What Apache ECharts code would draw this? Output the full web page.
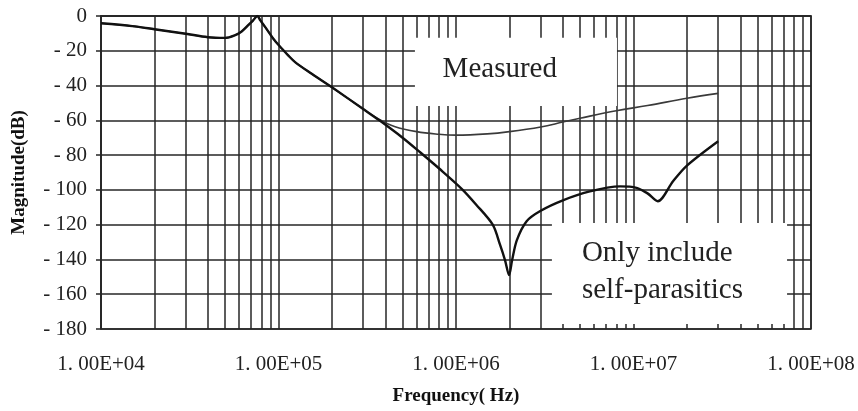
<!DOCTYPE html>
<html>
<head>
<meta charset="utf-8">
<script src="https://cdn.jsdelivr.net/npm/echarts@6/dist/echarts.min.js"></script>
<style>html,body{margin:0;padding:0;background:#fff}#c{width:858px;height:411px}</style>
</head>
<body>
<div id="c"></div>
<script>
// ---- data ----
const decades = [1e4, 1e5, 1e6, 1e7];
const minorMultipliers = [2, 3, 4, 5, 6, 7, 8, 9];
const xTickLabels = ['1. 00E+04', '1. 00E+05', '1. 00E+06', '1. 00E+07', '1. 00E+08'];
const yTicks = [0, -20, -40, -60, -80, -100, -120, -140, -160, -180];

const freqMeasured = [1.0e4, 1.5e4, 2.0e4, 3.0e4, 4.0e4, 5.0e4, 5.7e4, 6.2e4, 6.8e4, 7.2e4, 7.6e4, 7.9e4, 8.5e4, 9.5e4, 1.05e5, 1.13e5, 1.24e5, 1.5e5, 2.0e5, 3.0e5, 3.7e5, 4.5e5, 6.0e5, 8.0e5, 1.0e6, 1.5e6, 2.0e6, 3.0e6, 4.0e6, 5.0e6, 8.0e6, 1.2e7, 2.0e7, 3.0e7];
const magMeasured  = [-4.2, -5.8, -7.6, -10.2, -12.2, -12.6, -11, -8.9, -5, -2.5, 0, -2.5, -7, -14, -19, -22.5, -26.5, -32.5, -41, -53.5, -59.5, -63.5, -66.5, -68, -68.5, -67.8, -66.5, -63.8, -61, -58.8, -54.5, -51.5, -47.3, -44.5];

const freqModel = [1.0e4, 1.5e4, 2.0e4, 3.0e4, 4.0e4, 5.0e4, 5.7e4, 6.2e4, 6.8e4, 7.2e4, 7.6e4, 7.9e4, 8.5e4, 9.5e4, 1.05e5, 1.13e5, 1.24e5, 1.5e5, 2.0e5, 3.0e5, 3.7e5, 5.0e5, 6.3e5, 8.1e5, 1.08e6, 1.3e6, 1.61e6, 1.77e6, 1.89e6, 1.99e6, 2.07e6, 2.2e6, 2.5e6, 3.0e6, 4.0e6, 5.6e6, 8.4e6, 1.04e7, 1.2e7, 1.37e7, 1.67e7, 2.0e7, 3.0e7];
const magModel  = [-4.2, -5.8, -7.6, -10.2, -12.2, -12.6, -11, -8.9, -5, -2.5, 0, -2.5, -7, -14, -19, -22.5, -26.5, -32.5, -41, -53.5, -60, -70, -78.5, -88, -99.5, -108.5, -120, -131.5, -140.5, -149, -140.5, -129, -118, -112, -106, -101, -98, -98.8, -102, -106.5, -95, -86, -72];

// ---- build ----
const zip = (a, b) => a.map((v, i) => [v, b[i]]);
const minorLines = [];
decades.forEach(d => minorMultipliers.forEach(m => minorLines.push({ xAxis: d * m })));

const serif = '"Liberation Serif", "Times New Roman", serif';
const gridColor = '#262626';

const chart = echarts.init(document.getElementById('c'), null, { renderer: 'canvas' });
chart.setOption({
  animation: false,
  backgroundColor: '#fff',
  grid: { left: 101, right: 47, top: 16, bottom: 79, show: true, borderColor: gridColor, borderWidth: 1.5, backgroundColor: 'transparent' },
  xAxis: {
    type: 'log', logBase: 10, min: 1e4, max: 1e8,
    name: 'Frequency( Hz)', nameLocation: 'middle', nameGap: 58,
    nameTextStyle: { fontFamily: serif, fontWeight: 'bold', fontSize: 19, color: '#111' },
    axisLine: { show: true, lineStyle: { color: gridColor, width: 1.5 } },
    axisTick: { show: false },
    splitLine: { show: true, lineStyle: { color: gridColor, width: 1.5 } },
    axisLabel: {
      margin: 25, fontFamily: serif, fontSize: 21, color: '#222',
      formatter: v => xTickLabels[Math.round(Math.log10(v)) - 4]
    }
  },
  yAxis: {
    type: 'value', min: -180, max: 0, interval: 20,
    name: 'Magnitude(dB)', nameLocation: 'middle', nameGap: 72,
    nameTextStyle: { fontFamily: serif, fontWeight: 'bold', fontSize: 19, color: '#111' },
    axisLine: { show: true, lineStyle: { color: gridColor, width: 1.5 } },
    axisTick: { show: true, inside: false, length: 5, lineStyle: { color: gridColor, width: 1.5 } },
    splitLine: { show: true, lineStyle: { color: gridColor, width: 1.5 } },
    axisLabel: {
      margin: 14, fontFamily: serif, fontSize: 21, color: '#222',
      formatter: v => yTicks.includes(v) ? (v === 0 ? '0' : '- ' + (-v)) : ''
    }
  },
  series: [
    {
      name: 'grid-minor', type: 'line', data: [], silent: true, z: 1,
      markLine: {
        z: 1, silent: true, symbol: ['none', 'none'], animation: false,
        label: { show: false },
        lineStyle: { type: 'solid', color: gridColor, width: 1.5 },
        emphasis: { disabled: true },
        data: minorLines
      }
    },
    {
      name: 'boxes', type: 'line', data: [], silent: true, z: 2,
      markArea: {
        z: 2, silent: true,
        itemStyle: { color: '#ffffff', opacity: 1 },
        emphasis: { disabled: true },
        label: { fontFamily: serif, fontSize: 29, color: '#222' },
        data: [
          [
            { xAxis: 5.87e5, yAxis: -12.5, name: 'Measured',
              label: { position: ['42%', '47%'], align: 'center', verticalAlign: 'middle' } },
            { xAxis: 8.07e6, yAxis: -51.8 }
          ],
          [
            { xAxis: 3.47e6, yAxis: -119, name: 'Only include\nself-parasitics',
              label: { position: [30, '48%'], align: 'left', verticalAlign: 'middle', lineHeight: 37 } },
            { xAxis: 7.33e7, yAxis: -177.1 }
          ]
        ]
      }
    },
    {
      name: 'Measured', type: 'line', z: 3, symbol: 'none', smooth: 0.4,
      lineStyle: { color: '#3a3a3a', width: 1.6 },
      data: zip(freqMeasured, magMeasured)
    },
    {
      name: 'Only include self-parasitics', type: 'line', z: 4, symbol: 'none', smooth: 0.3,
      lineStyle: { color: '#111', width: 2.4 },
      data: zip(freqModel, magModel)
    }
  ]
});
</script>
</body>
</html>
